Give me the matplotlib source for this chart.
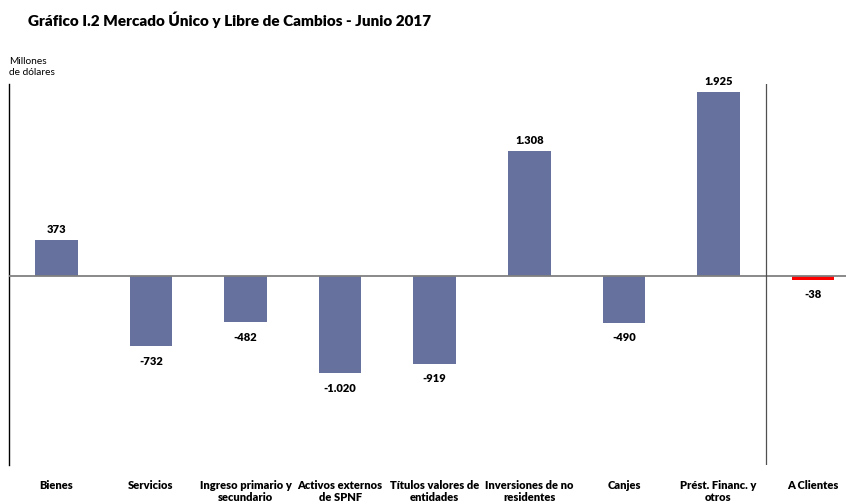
import matplotlib.pyplot as plt

plt.rcParams['font.family'] = ['Lato', 'DejaVu Sans']

categorias = ["Bienes", "Servicios", "Ingreso primario y\nsecundario",
              "Activos externos\nde SPNF", "Títulos valores de\nentidades",
              "Inversiones de no\nresidentes", "Canjes", "Prést. Financ. y\notros",
              "A Clientes"]
valores = [373, -732, -482, -1020, -919, 1308, -490, 1925, -38]
etiquetas = ["373", "-732", "-482", "-1.020", "-919", "1.308", "-490", "1.925", "-38"]

W, H = 846, 504
fig = plt.figure(figsize=(W / 100, H / 100), dpi=100)
ax = fig.add_axes([9 / W, (H - 465) / H, (W - 9) / W, (465 - 84) / H])

colores = ["#67719e"] * 8 + ["#ff0000"]
x = list(range(len(valores)))
ax.bar(x, valores, width=0.45, color=colores, zorder=2)

ax.set_xlim(-0.5, -0.5 + (W - 9) / 94.6)
ax.set_ylim(-1980, 2010)

for xi, v, t in zip(x, valores, etiquetas):
    off = 7.5 if v >= 0 else -11
    ax.annotate(t, (xi, v), xytext=(0, off), textcoords="offset points",
                ha="center", va="center", fontsize=8, fontweight="heavy")

ax.axhline(0, color="#808080", lw=1.3, zorder=3)
ax.axvline(7.5, color="#505050", lw=0.9, zorder=3)

for s in ["top", "right", "bottom"]:
    ax.spines[s].set_visible(False)
ax.spines["left"].set_linewidth(1.0)
ax.set_yticks([])
ax.set_xticks(x)
ax.set_xticklabels(categorias, fontsize=8, fontweight="heavy", linespacing=1.05)
ax.tick_params(axis="x", length=0, pad=11)

fig.text(28 / W, 1 - 20 / H, "Gráfico I.2 Mercado Único y Libre de Cambios - Junio 2017",
         fontsize=11, fontweight="heavy", va="center", ha="left")
fig.text(9 / W, 1 - 67 / H, "Millones\nde dólares", fontsize=7.3, va="center",
         ha="left", linespacing=1.25)

fig.savefig("out.png", dpi=100)
